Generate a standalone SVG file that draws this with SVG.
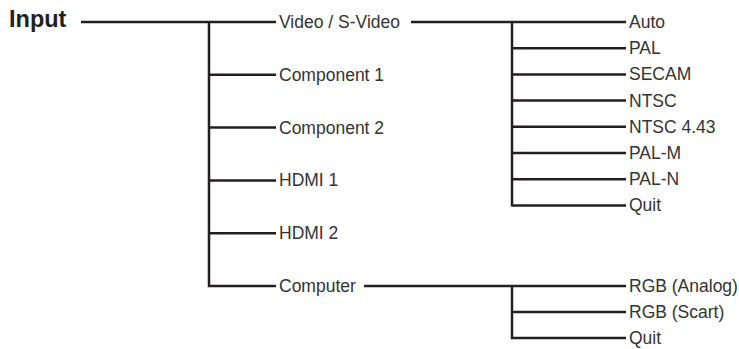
<svg xmlns="http://www.w3.org/2000/svg" width="739" height="349" viewBox="0 0 739 349">
<style>
.ln{stroke:#231f20;stroke-width:2.5;fill:none;stroke-linecap:butt}
text{font-family:"Liberation Sans",Arial,sans-serif;font-size:17.5px;fill:#333}
.title{font-weight:bold;font-size:23.5px;fill:#231f20}
</style>
<rect width="739" height="349" fill="#fff"/>
<g id="connectors">
<path class="ln" d="M81 22H276M209 20.8V287.2M209 74.8H276M209 127.6H276M209 180.4H276M209 233.2H276M209 286H276"/>
<path class="ln" d="M411 22H626M512 20.8V206.6M512 48.2H626M512 74.4H626M512 100.6H626M512 126.8H626M512 153H626M512 179.2H626M512 205.4H626"/>
<path class="ln" d="M364 286H626M512 284.8V339.2M512 312H626M512 338H626"/>
</g>
<g id="input"><text class="title" x="9" y="26.7">Input</text></g>
<g id="video"><text x="279" y="28">Video / S-Video</text></g>
<g id="component1"><text x="279" y="80.8">Component 1</text></g>
<g id="component2"><text x="279" y="133.6">Component 2</text></g>
<g id="hdmi1"><text x="279" y="186.4">HDMI 1</text></g>
<g id="hdmi2"><text x="279" y="239.2">HDMI 2</text></g>
<g id="computer"><text x="279" y="292">Computer</text></g>
<g id="auto"><text x="629" y="28">Auto</text></g>
<g id="pal"><text x="629" y="54.2">PAL</text></g>
<g id="secam"><text x="629" y="80.4">SECAM</text></g>
<g id="ntsc"><text x="629" y="106.6">NTSC</text></g>
<g id="ntsc443"><text x="629" y="132.8">NTSC 4.43</text></g>
<g id="palm"><text x="629" y="159">PAL-M</text></g>
<g id="paln"><text x="629" y="185.2">PAL-N</text></g>
<g id="quit1"><text x="629" y="211.4">Quit</text></g>
<g id="rgbanalog"><text x="629" y="292">RGB (Analog)</text></g>
<g id="rgbscart"><text x="629" y="318">RGB (Scart)</text></g>
<g id="quit2"><text x="629" y="344">Quit</text></g>
</svg>
